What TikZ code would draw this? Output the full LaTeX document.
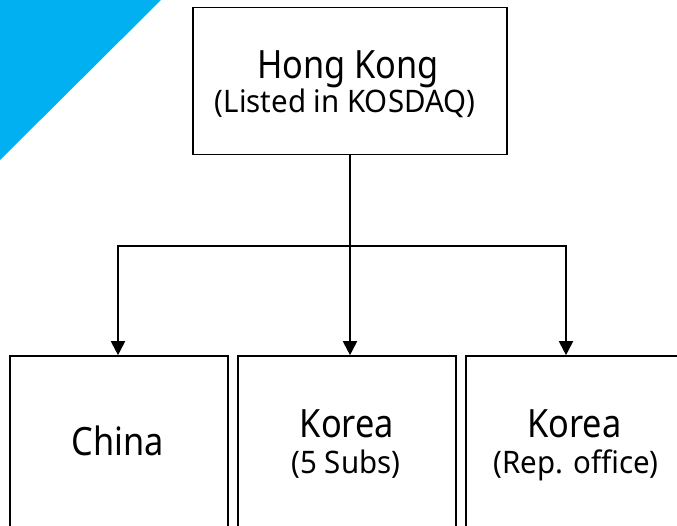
\documentclass[tikz,border=0pt]{standalone}
\usepackage{fontspec}
\setmainfont{Noto Sans}
\newfontfamily\mainf[FakeStretch=0.88]{Noto Sans}
\newfontfamily\subf[FakeStretch=0.95]{Noto Sans}
\usetikzlibrary{arrows.meta}
\definecolor{cornerblue}{RGB}{0,176,240}
\tikzset{
  box/.style={draw=black, line width=1.6pt, rectangle, inner sep=0pt},
  link/.style={draw=black, line width=1.8pt},
  arr/.style={link, -{Triangle[width=14pt,length=14pt]}},
  bigt/.style={anchor=base, inner sep=0pt, font=\mainf\fontsize{39}{44}\selectfont},
  smallt/.style={anchor=base, inner sep=0pt, font=\subf\fontsize{31}{36}\selectfont},
}
\begin{document}
\begin{tikzpicture}[x=1pt,y=-1pt]
\useasboundingbox (0,0) rectangle (677,526);
\clip (0,0) rectangle (677,526);
\fill[cornerblue] (0,0) -- (161,0) -- (0,160) -- cycle;
\node[box, minimum width=314pt, minimum height=147pt] (top) at (350,81) {};
\node[box, minimum width=218pt, minimum height=172pt] (china) at (119,442) {};
\node[box, minimum width=218pt, minimum height=172pt] (sub) at (347,442) {};
\node[box, minimum width=218pt, minimum height=172pt] (rep) at (575,442) {};
\node[bigt] (hk) at (348,79) {Hong Kong};
\node[smallt] (hks) at (345,113) {(Listed in KOSDAQ)};
\node[bigt] (cn) at (118,455) {China};
\node[bigt] (kr) at (347,437) {Korea};
\node[smallt] (krs) at (346,473) {(5 Subs)};
\node[bigt] (kr2) at (574.5,437) {Korea};
\node[smallt] (kr2s) at (576,473) {(Rep. office)};
\coordinate (jn) at (350,246);
\draw[link] (top.south -| jn) -- (jn);
\draw[arr] (jn) -| ([xshift=-1pt]china.north);
\draw[arr] (jn) -- (jn |- sub.north);
\draw[arr] (jn) -| ([xshift=-9pt]rep.north);
\end{tikzpicture}
\end{document}
